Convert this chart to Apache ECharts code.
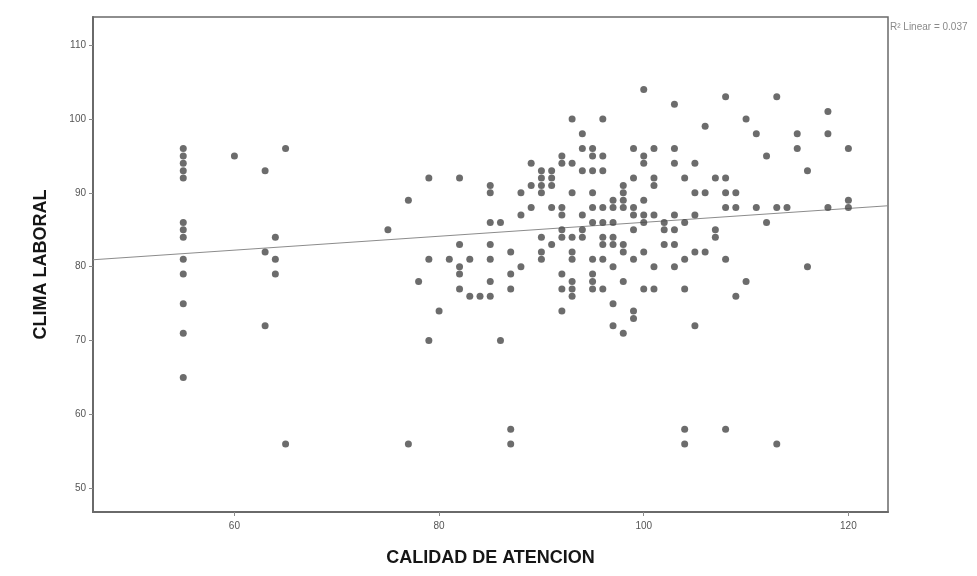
<!DOCTYPE html>
<html>
<head>
<meta charset="utf-8">
<script src="https://cdn.jsdelivr.net/npm/echarts@6/dist/echarts.min.js"></script>
<style>
  html, body { margin: 0; padding: 0; background: #ffffff; }
  #chart { width: 977px; height: 576px; }
</style>
</head>
<body>
<div id="chart"></div>
<script>
// Observed scores, one entry per respondent (x and y arrays are parallel)
const calidadAtencion = [
  55,55,55,55,55,55,55,55,55,55,55,55,55,
  60,63,63,63,64,64,64,65,65,
  75,77,77,78,79,79,79,80,81,
  82,82,82,82,82,83,83,84,
  85,85,85,85,85,85,85,86,86,
  87,87,87,87,87,88,88,88,89,89,89,
  90,90,90,90,90,90,90,91,91,91,91,91,
  92,92,92,92,92,92,92,92,92,
  93,93,93,93,93,93,93,93,93,
  94,94,94,94,94,94,
  95,95,95,95,95,95,95,95,95,95,
  96,96,96,96,96,96,96,96,96,
  97,97,97,97,97,97,97,97,
  98,98,98,98,98,98,98,98,
  99,99,99,99,99,99,99,99,
  100,100,100,100,100,100,100,100,
  101,101,101,101,101,101,102,102,102,
  103,103,103,103,103,103,103,
  104,104,104,104,104,104,105,105,105,105,105,
  106,106,106,107,107,107,108,108,108,108,108,108,
  109,109,109,110,110,111,111,112,112,
  113,113,113,114,115,115,116,116,118,118,118,120,120,120
];
const climaLaboral = [
  96,95,94,93,92,86,85,84,81,79,75,71,65,
  95,93,82,72,84,81,79,96,56,
  85,89,56,78,92,81,70,74,81,
  92,83,80,79,77,81,76,76,
  91,90,86,83,81,78,76,86,70,
  82,79,77,58,56,90,87,80,94,91,88,
  93,92,91,90,84,82,81,93,92,91,88,83,
  95,94,88,87,85,84,79,77,74,
  100,94,90,84,82,81,78,77,76,
  98,96,93,87,85,84,
  96,95,93,90,88,86,81,79,78,77,
  100,95,93,88,86,84,83,81,77,
  89,88,86,84,83,80,75,72,
  91,90,89,88,83,82,78,71,
  96,92,88,87,85,81,74,73,
  104,95,94,89,87,86,82,77,
  96,92,91,87,80,77,86,85,83,
  102,96,94,87,85,83,80,
  92,86,81,77,58,56,94,90,87,82,72,
  99,90,82,92,85,84,103,92,90,88,81,58,
  90,88,76,100,78,98,88,95,86,
  103,88,56,88,98,96,93,80,101,98,88,96,89,88
];

// Linear fit drawn across the full horizontal range
const ajusteX = [46.18, 123.87];
const ajusteY = [80.94, 88.25];

// Axis tick values and fit summary
const ticksX = [60, 80, 100, 120];
const ticksY = [50, 60, 70, 80, 90, 100, 110];
const resumenAjuste = 'R\u00B2 Linear = 0.037';

const puntos = calidadAtencion.map((x, i) => [x, climaLaboral[i]]);
const lineaAjuste = ajusteX.map((x, i) => [x, ajusteY[i]]);

const chart = echarts.init(document.getElementById('chart'), null, { renderer: 'canvas' });

const axisFont = 'Liberation Sans, Arial, sans-serif';

chart.setOption({
  animation: false,
  backgroundColor: '#ffffff',
  grid: {
    left: 93, top: 17, right: 89, bottom: 64,
    show: true,
    borderColor: '#6a6a6a',
    borderWidth: 1.5,
    backgroundColor: '#ffffff'
  },
  xAxis: {
    type: 'value',
    min: 46.18,
    max: 123.87,
    name: 'CALIDAD DE ATENCION',
    nameLocation: 'middle',
    nameGap: 37,
    nameTextStyle: { fontFamily: axisFont, fontWeight: 'bold', fontSize: 18, color: '#161616' },
    axisLine: { show: true, onZero: false, lineStyle: { color: '#6a6a6a', width: 2 } },
    axisTick: { show: true, customValues: ticksX, length: 4, lineStyle: { color: '#8a8a8a', width: 1 } },
    axisLabel: { customValues: ticksX, margin: 9, fontFamily: axisFont, fontSize: 10, color: '#555555' },
    splitLine: { show: false }
  },
  yAxis: {
    type: 'value',
    min: 46.8,
    max: 113.8,
    name: 'CLIMA LABORAL',
    nameLocation: 'middle',
    nameGap: 43,
    nameRotate: 90,
    nameTextStyle: { fontFamily: axisFont, fontWeight: 'bold', fontSize: 18, color: '#161616' },
    axisLine: { show: true, onZero: false, lineStyle: { color: '#6a6a6a', width: 2 } },
    axisTick: { show: true, customValues: ticksY, length: 4, lineStyle: { color: '#8a8a8a', width: 1 } },
    axisLabel: { customValues: ticksY, margin: 7, fontFamily: axisFont, fontSize: 10, color: '#555555' },
    splitLine: { show: false }
  },
  series: [
    {
      type: 'line',
      data: lineaAjuste,
      showSymbol: false,
      silent: true,
      z: 1,
      lineStyle: { color: '#8c8c8c', width: 1.2 }
    },
    {
      type: 'scatter',
      data: puntos,
      symbol: 'circle',
      symbolSize: 7,
      silent: true,
      z: 2,
      itemStyle: { color: '#474747' }
    }
  ],
  graphic: [
    {
      type: 'text',
      left: 890,
      top: 22,
      style: {
        text: resumenAjuste,
        fontFamily: axisFont,
        fontSize: 10,
        fill: '#8a8a8a'
      }
    }
  ]
});
</script>
</body>
</html>
